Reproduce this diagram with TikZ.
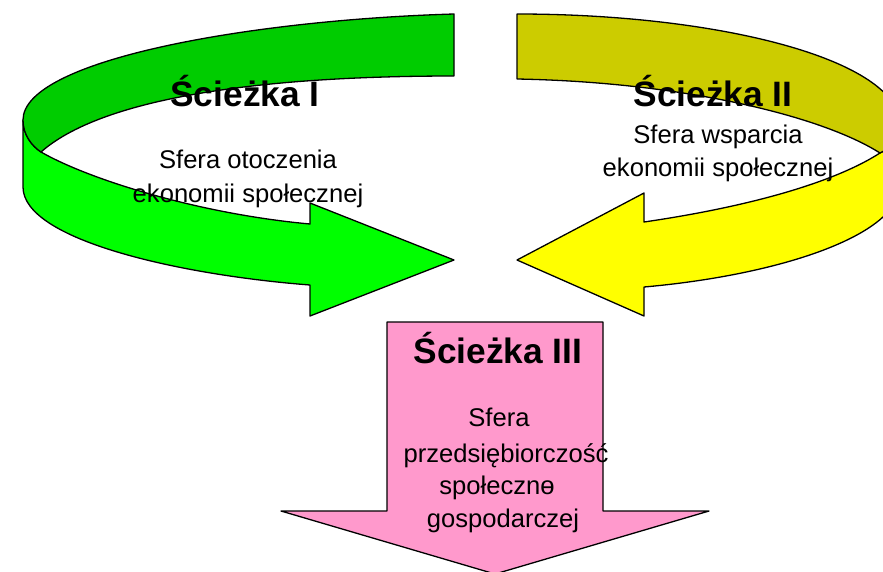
\documentclass[tikz,border=0pt]{standalone}
\usepackage{fontspec}
\setmainfont{Liberation Sans}
\definecolor{gdark}{RGB}{0,204,0}
\definecolor{glight}{RGB}{0,255,0}
\definecolor{ydark}{RGB}{204,204,0}
\definecolor{ylight}{RGB}{255,255,0}
\definecolor{pinkfill}{RGB}{255,153,204}
\tikzset{
  band/.style={draw=black, line width=1.3pt, line join=round},
  title/.style={anchor=base, inner sep=0pt, font=\fontsize{35.3}{40}\selectfont\bfseries},
  body/.style={anchor=base, inner sep=0pt, font=\fontsize{25.6}{32}\selectfont},
}
\begin{document}
\begin{tikzpicture}[x=1pt,y=-1pt]
\useasboundingbox (0,0) rectangle (883,571);
\clip (0,0) rectangle (883,571);
% ---- green arrow (Sciezka I)
\fill[band, fill=glight] (23,120) -- (23,187)
  .. controls (23,240) and (180,275) .. (310,285)
  -- (310,316) -- (454,260) -- (310,203) -- (310,224)
  .. controls (200,214) and (90,180) .. (41,152)
  .. controls (32,146) and (23,135) .. (23,120) -- cycle;
\fill[band, fill=gdark] (454,14)
  .. controls (250,20) and (23,60) .. (23,120)
  .. controls (23,135) and (32,146) .. (41,152)
  .. controls (100,100) and (250,76) .. (454,76) -- cycle;
% ---- yellow arrow (Sciezka II)
\fill[band, fill=ylight] (900,125) -- (900,185)
  .. controls (900,235) and (780,275) .. (644,287)
  -- (644,316) -- (517,260) -- (644,193) -- (644,222)
  .. controls (740,208) and (830,185) .. (880,153)
  .. controls (890,148) and (900,140) .. (900,125) -- cycle;
\fill[band, fill=ydark] (517,14)
  .. controls (720,14) and (900,60) .. (900,125)
  .. controls (900,140) and (890,148) .. (880,153)
  .. controls (820,115) and (680,82) .. (517,79) -- cycle;
% ---- pink arrow (Sciezka III)
\fill[band, fill=pinkfill] (387,322) -- (603,322) -- (603,511) -- (709,511)
  -- (495,574) -- (281,511) -- (387,511) -- cycle;
% ---- texts
\node[title] (t1) at (245,106) {Ścieżka I};
\node[body] (b1a) at (248,168) {Sfera otoczenia};
\node[body] (b1b) at (248,202) {ekonomii społecznej};
\node[title] (t2) at (713,106) {Ścieżka II};
\node[body] (b2a) at (718,143) {Sfera wsparcia};
\node[body] (b2b) at (718,176) {ekonomii społecznej};
\node[title] (t3) at (498,363) {Ścieżka III};
\node[body] (b3a) at (499,426) {Sfera};
\node[body] (b3b) at (506,462) {przedsiębiorczość};
\node[body] (b3c) at (497,494) {społecznɵ};
\node[body] (b3d) at (503,527) {gospodarczej};
\end{tikzpicture}
\end{document}
